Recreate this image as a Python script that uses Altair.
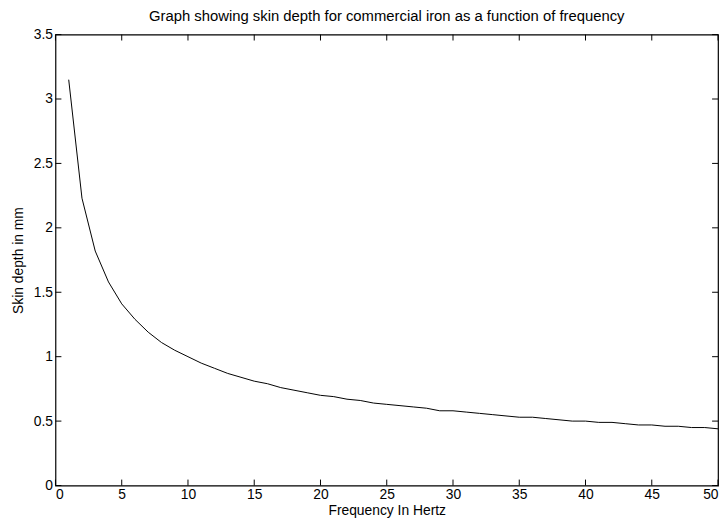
import altair as alt
import pandas as pd

# Frequency in Hertz and skin depth in mm
freq = list(range(1, 51))
depth = [3.15, 2.23, 1.82, 1.58, 1.41, 1.29, 1.19, 1.11, 1.05, 1.00,
         0.95, 0.91, 0.87, 0.84, 0.81, 0.79, 0.76, 0.74, 0.72, 0.70,
         0.69, 0.67, 0.66, 0.64, 0.63, 0.62, 0.61, 0.60, 0.58, 0.58,
         0.57, 0.56, 0.55, 0.54, 0.53, 0.53, 0.52, 0.51, 0.50, 0.50,
         0.49, 0.49, 0.48, 0.47, 0.47, 0.46, 0.46, 0.45, 0.45, 0.44]
x_ticks = [0, 5, 10, 15, 20, 25, 30, 35, 40, 45, 50]
y_ticks = [0, 0.5, 1, 1.5, 2, 2.5, 3, 3.5]

W, H = 670, 456
FONT = "Liberation Sans"

df = pd.DataFrame({"f": freq, "d": depth})
xt = pd.DataFrame({"v": x_ticks})
yt = pd.DataFrame({"v": y_ticks})

xs = alt.Scale(domain=[0, 50], nice=False, zero=False)
ys = alt.Scale(domain=[0, 3.5], nice=False, zero=False)

line = alt.Chart(df).mark_line(color="black", strokeWidth=1).encode(
    x=alt.X("f:Q", scale=xs,
            axis=alt.Axis(values=x_ticks, title="Frequency In Hertz",
                          labelExpr="datum.value + ''", tickSize=0,
                          labelPadding=2, titlePadding=2, domain=False)),
    y=alt.Y("d:Q", scale=ys,
            axis=alt.Axis(values=y_ticks, title="Skin depth in mm",
                          labelExpr="datum.value + ''", tickSize=0,
                          labelPadding=3, titlePadding=8, domain=False)),
)

tk = dict(color="black", strokeWidth=1)
bottom = alt.Chart(xt).mark_rule(**tk).encode(
    x=alt.X("v:Q", scale=xs), y=alt.value(H), y2=alt.value(H - 6))
top = alt.Chart(xt).mark_rule(**tk).encode(
    x=alt.X("v:Q", scale=xs), y=alt.value(0), y2=alt.value(6))
left = alt.Chart(yt).mark_rule(**tk).encode(
    y=alt.Y("v:Q", scale=ys), x=alt.value(0), x2=alt.value(6))
right = alt.Chart(yt).mark_rule(**tk).encode(
    y=alt.Y("v:Q", scale=ys), x=alt.value(W), x2=alt.value(W - 6))

chart = alt.layer(line, bottom, top, left, right).properties(
    width=W, height=H,
    autosize=alt.AutoSizeParams(type="none"),
    padding={"left": 48, "top": 24, "right": 2, "bottom": 33},
    title=alt.TitleParams(
        "Graph showing skin depth for commercial iron as a function of frequency",
        font=FONT, fontSize=15, fontWeight="normal", color="black", offset=4),
    background="white",
).configure_view(
    stroke="black", strokeWidth=1.2
).configure_axis(
    labelFont=FONT, labelFontSize=14, labelColor="black",
    titleFont=FONT, titleFontSize=14, titleColor="black",
    titleFontWeight="normal", grid=False,
)

chart.save("out.html", embed_options={"renderer": "svg", "actions": False})
